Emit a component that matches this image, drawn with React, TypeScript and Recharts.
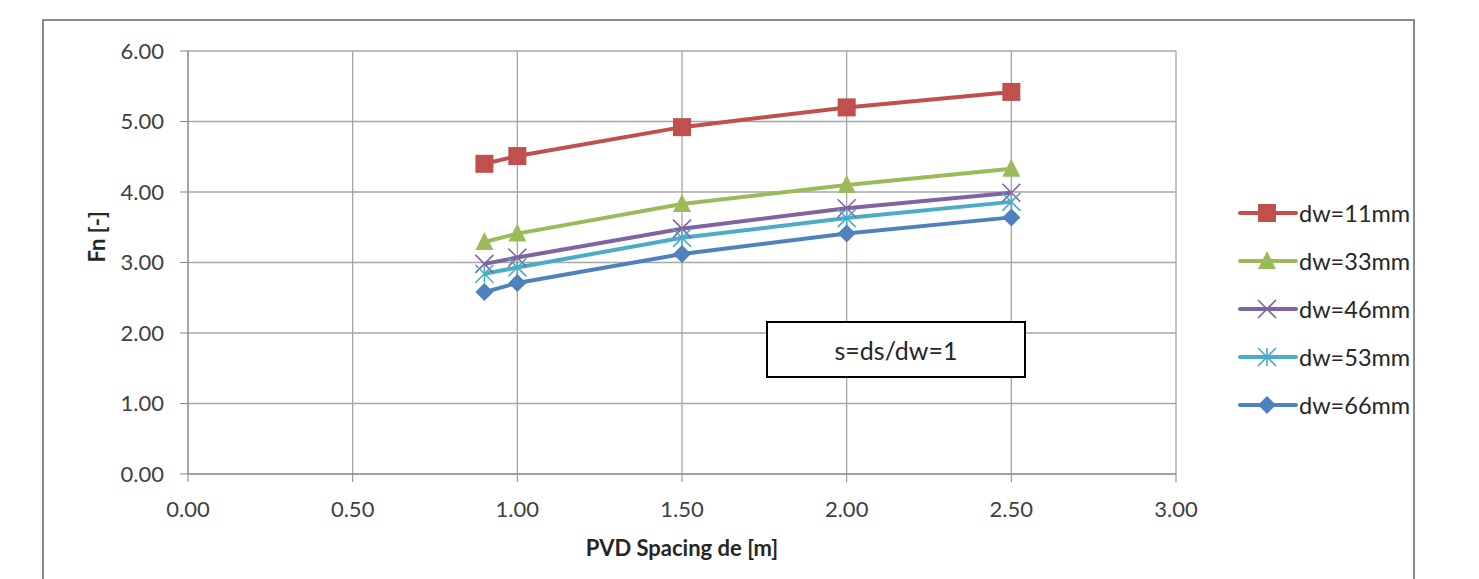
import React from 'react';
import { LineChart, Line, XAxis, YAxis, CartesianGrid } from 'recharts';

const spacing = [0.9, 1.0, 1.5, 2.0, 2.5];
const dw11 = [4.4, 4.51, 4.92, 5.2, 5.42];
const dw33 = [3.29, 3.41, 3.83, 4.1, 4.33];
const dw46 = [2.98, 3.07, 3.48, 3.77, 3.99];
const dw53 = [2.84, 2.93, 3.35, 3.63, 3.86];
const dw66 = [2.58, 2.71, 3.12, 3.41, 3.64];
const xTicks = [0, 0.5, 1, 1.5, 2, 2.5, 3];
const yTicks = [0, 1, 2, 3, 4, 5, 6];

const series = [
    { key: 'dw11', name: 'dw=11mm', values: dw11, color: '#C0504D', marker: 'square' },
    { key: 'dw33', name: 'dw=33mm', values: dw33, color: '#9BBB59', marker: 'triangle' },
    { key: 'dw46', name: 'dw=46mm', values: dw46, color: '#8064A2', marker: 'cross' },
    { key: 'dw53', name: 'dw=53mm', values: dw53, color: '#4BACC6', marker: 'star' },
    { key: 'dw66', name: 'dw=66mm', values: dw66, color: '#4F81BD', marker: 'diamond' },
];

const data = spacing.map((x, i) => {
    const row: any = { x };
    series.forEach(s => { row[s.key] = s.values[i]; });
    return row;
});

const FONT = 'Lato, "Open Sans", sans-serif';

const Marker = ({ cx, cy, type, color }: any) => {
    if (cx == null || cy == null) return null;
    const r = 9;
    switch (type) {
        case 'square':
            return <rect x={cx - r} y={cy - r} width={r * 2} height={r * 2} fill={color} />;
        case 'triangle':
            return <polygon points={`${cx},${cy - r - 1} ${cx + r},${cy + r - 1} ${cx - r},${cy + r - 1}`} fill={color} />;
        case 'diamond':
            return <polygon points={`${cx},${cy - r} ${cx + r},${cy} ${cx},${cy + r} ${cx - r},${cy}`} fill={color} />;
        case 'cross':
            return (
                <g stroke={color} strokeWidth={1.6}>
                    <line x1={cx - r} y1={cy - r} x2={cx + r} y2={cy + r} />
                    <line x1={cx - r} y1={cy + r} x2={cx + r} y2={cy - r} />
                </g>
            );
        case 'star':
            return (
                <g stroke={color} strokeWidth={1.6}>
                    <line x1={cx - r} y1={cy - r} x2={cx + r} y2={cy + r} />
                    <line x1={cx - r} y1={cy + r} x2={cx + r} y2={cy - r} />
                    <line x1={cx} y1={cy - r} x2={cx} y2={cy + r} />
                </g>
            );
        default:
            return null;
    }
};

const App = () => {
    return (
        <div style={{ position: 'absolute', left: 0, top: 0, width: 1479, height: 579, background: '#fff', overflow: 'hidden' }}>
            <div style={{ position: 'absolute', left: 42, top: 19, width: 1373, height: 600, border: '2px solid #8a8a8a', boxSizing: 'border-box' }} />
            <div style={{ position: 'absolute', left: 0, top: 0 }}>
                <LineChart width={1479} height={579} data={data} margin={{ top: 51, right: 303, bottom: 15, left: 108 }}>
                    <CartesianGrid stroke="#a6a6a6" strokeWidth={1.3} />
                    <XAxis
                        dataKey="x"
                        type="number"
                        domain={[0, 3]}
                        ticks={xTicks}
                        tickFormatter={(v: number) => v.toFixed(2)}
                        stroke="#868686"
                        tick={{ fill: '#404040', fontSize: 22, fontFamily: FONT }}
                        tickSize={8}
                        tickMargin={19}
                        height={90}
                        label={{ value: 'PVD Spacing de [m]', position: 'insideBottom', offset: 8, fill: '#262626', fontSize: 22, fontWeight: 'bold', fontFamily: FONT }}
                    />
                    <YAxis
                        type="number"
                        domain={[0, 6]}
                        ticks={yTicks}
                        tickFormatter={(v: number) => v.toFixed(2)}
                        stroke="#868686"
                        tick={{ fill: '#404040', fontSize: 22, fontFamily: FONT }}
                        tickSize={8}
                        tickMargin={16}
                        width={80}
                        label={{ value: 'Fn [-]', angle: -90, position: 'insideLeft', offset: -11, fill: '#262626', fontSize: 22, fontWeight: 'bold', fontFamily: FONT }}
                    />
                    {series.map(s => (
                        <Line
                            key={s.key}
                            dataKey={s.key}
                            name={s.name}
                            stroke={s.color}
                            strokeWidth={4}
                            isAnimationActive={false}
                            dot={(p: any) => <Marker key={`${s.key}-${p.index}`} cx={p.cx} cy={p.cy} type={s.marker} color={s.color} />}
                            activeDot={false}
                        />
                    ))}
                </LineChart>
            </div>
            <div style={{ position: 'absolute', left: 766, top: 321, width: 260, height: 57, border: '2px solid #000', boxSizing: 'border-box', background: '#fff', display: 'flex', alignItems: 'center', justifyContent: 'center', fontFamily: FONT, fontSize: 25, color: '#262626' }}>
                s=ds/dw=1
            </div>
            <div style={{ position: 'absolute', left: 1238, top: 189 }}>
                {series.map(s => (
                    <div key={s.key} style={{ display: 'flex', alignItems: 'center', height: 48 }}>
                        <svg width={60} height={28}>
                            <line x1={2} y1={14} x2={58} y2={14} stroke={s.color} strokeWidth={4} strokeLinecap="round" />
                            <Marker cx={29} cy={14} type={s.marker} color={s.color} />
                        </svg>
                        <span style={{ fontFamily: FONT, fontSize: 23.5, color: '#262626', marginLeft: 1 }}>{s.name}</span>
                    </div>
                ))}
            </div>
        </div>
    );
};

export default App;
